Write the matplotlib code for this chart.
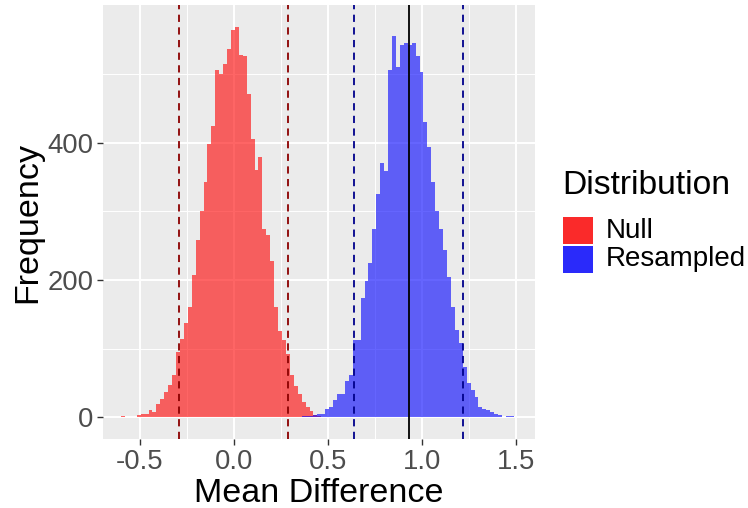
import numpy as np
import matplotlib
matplotlib.use("Agg")
import matplotlib.pyplot as plt
from matplotlib.patches import Rectangle

plt.rcParams['font.family'] = ['Liberation Sans', 'DejaVu Sans']

# histogram bins (shared grid)
bin_start = -0.601
bin_width = 0.0209

# Null distribution counts, from bin 0
null_counts = [1, 0, 0, 0, 3, 4, 4, 11, 8, 19, 27, 36, 47, 61,
               95, 114, 137, 161, 207, 258, 300, 343, 399, 425, 507, 500, 515, 537, 565,
               569, 528, 526, 472, 406, 360, 380, 275, 265, 228, 161, 126, 112, 92,
               62, 45, 34, 22, 15, 9, 3, 2]

# Resampled distribution counts, from bin 46
res_offset = 46
res_counts = [1, 1, 2, 3, 4, 5, 12, 14, 25, 33, 33, 52, 62, 112, 112, 173, 199,
              225, 274, 326, 370, 359, 507, 556, 510, 543, 546, 543, 546, 526, 504,
              430, 394, 343, 301, 275, 243, 205, 161, 127, 108, 73, 49, 40, 29, 14,
              12, 11, 7, 5, 3, 0, 1, 1]

null_ci = [-0.295, 0.287]
res_ci = [0.64, 1.22]
observed = 0.93

x_ticks = [-0.5, 0.0, 0.5, 1.0, 1.5]
y_ticks = [0, 200, 400]

legend_labels = ['Null', 'Resampled']
legend_colors = ['#FA2A2A', '#2A2AFA']

W, H = 748, 508
fig = plt.figure(figsize=(W / 100, H / 100), dpi=100)
ax = fig.add_axes([0.1377, 0.1358, 0.715 - 0.1377, 0.990 - 0.1358])
ax.set_facecolor('#EBEBEB')

null_left = bin_start + bin_width * np.arange(len(null_counts))
res_left = bin_start + bin_width * (res_offset + np.arange(len(res_counts)))

ax.bar(null_left, null_counts, width=bin_width, align='edge', color='red',
       alpha=0.6, linewidth=0, zorder=2)
ax.bar(res_left, res_counts, width=bin_width, align='edge', color='blue',
       alpha=0.6, linewidth=0, zorder=2)

for v in null_ci:
    ax.axvline(v, color='#8B0000', linestyle=(0, (4, 3)), linewidth=1.3, zorder=3)
for v in res_ci:
    ax.axvline(v, color='#00008B', linestyle=(0, (4, 3)), linewidth=1.3, zorder=3)
ax.axvline(observed, color='black', linewidth=1.3, zorder=3)

ax.set_xlim(-0.697, 1.601)
ax.set_ylim(-32, 601)
ax.set_xticks(x_ticks)
ax.set_xticklabels(['-0.5', '0.0', '0.5', '1.0', '1.5'])
ax.set_yticks(y_ticks)
ax.set_xticks([-0.25, 0.25, 0.75, 1.25], minor=True)
ax.set_yticks([100, 300, 500], minor=True)
ax.grid(which='major', color='white', linewidth=1.4, zorder=0)
ax.grid(which='minor', color='white', linewidth=0.7, zorder=0)
ax.set_axisbelow(True)
for s in ax.spines.values():
    s.set_visible(False)
ax.tick_params(which='major', length=4, width=1, color='#333333',
               labelsize=19.8, labelcolor='#4D4D4D', pad=3)
ax.tick_params(which='minor', length=0)

ax.set_xlabel('Mean Difference', fontsize=24.5, labelpad=2)
ax.set_ylabel('Frequency', fontsize=24.5, labelpad=3)

# legend, placed by hand like ggplot's guide
fig.text(562 / W, 1 - 185 / H, 'Distribution', fontsize=24.2, ha='left', va='center')
key_top = 217
for lab, col in zip(legend_labels, legend_colors):
    fig.add_artist(Rectangle((563 / W, 1 - (key_top + 27) / H), 30 / W, 27 / H,
                             transform=fig.transFigure, facecolor=col,
                             edgecolor='none'))
    fig.text(606 / W, 1 - (key_top + 13.5) / H, lab, fontsize=20,
             ha='left', va='center')
    key_top += 29

fig.savefig('out.png', dpi=100)
